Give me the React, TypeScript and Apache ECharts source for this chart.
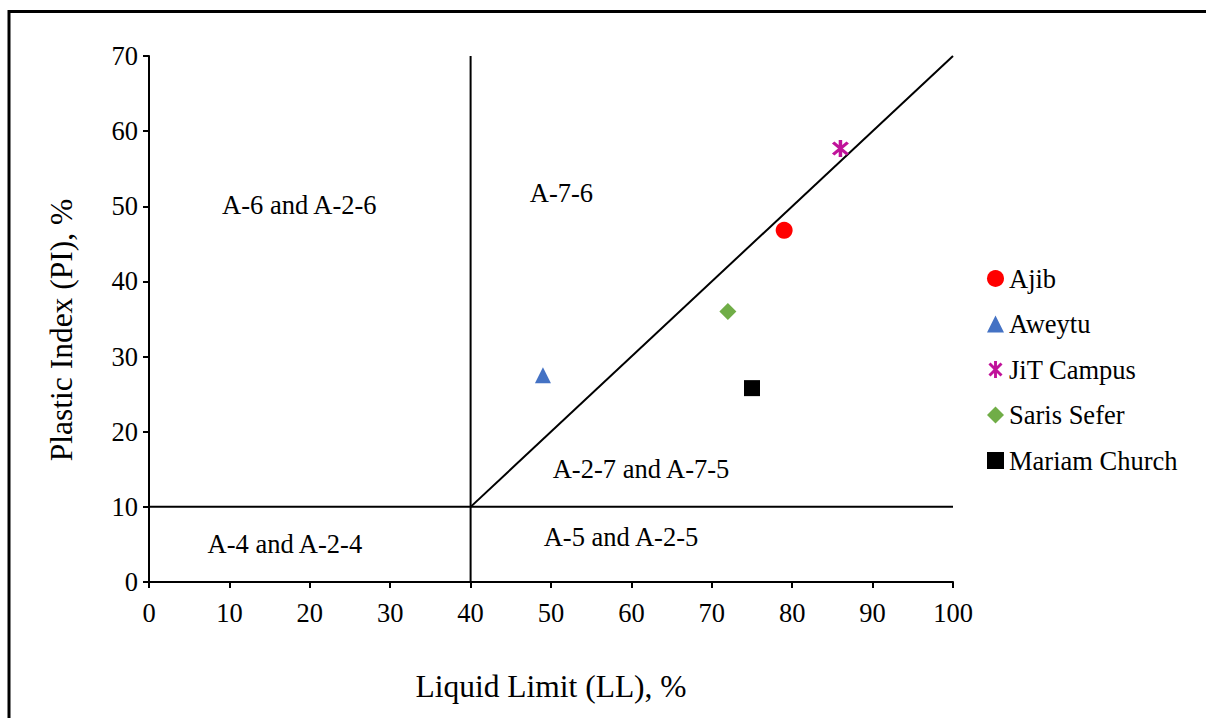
import React, { useEffect, useRef } from "react";
import * as echarts from "echarts";

const seriesNames = ["Ajib", "Aweytu", "JiT Campus", "Saris Sefer", "Mariam Church"];
const llValues = [79, 49, 86, 72, 75];
const piValues = [46.8, 27.5, 57.7, 36, 25.8];
const colors = ["#FF0000", "#4472C4", "#C0139A", "#70AD47", "#000000"];

const xTicks = [0, 10, 20, 30, 40, 50, 60, 70, 80, 90, 100];
const yTicks = [0, 10, 20, 30, 40, 50, 60, 70];

const boundaryLines = [
  [[40, 0], [40, 70]],
  [[0, 10], [100, 10]],
  [[40, 10], [100, 70]],
];

const zoneLabels = ["A-6 and A-2-6", "A-7-6", "A-2-7 and A-7-5", "A-5 and A-2-5", "A-4 and A-2-4"];
const zoneX = [18.7, 51.3, 61.2, 58.7, 16.9];
const zoneY = [50.2, 51.8, 15.0, 6.0, 5.0];

const xTitle = "Liquid Limit (LL), %";
const yTitle = "Plastic Index (PI), %";

const FONT = '"Liberation Serif", "Times New Roman", serif';

const asterisk = (() => {
  const w = 1.7;
  const L = 10;
  const bar = (ang: number) => {
    const c = Math.cos(ang), s = Math.sin(ang);
    const pts = [[-w, -L], [w, -L], [w, L], [-w, L]].map(([x, y]) => [x * c - y * s, x * s + y * c]);
    return "M" + pts.map((p) => p[0].toFixed(3) + "," + p[1].toFixed(3)).join("L") + "Z";
  };
  return "path://" + bar(0) + bar(Math.PI / 4) + bar(-Math.PI / 4);
})();

const symbols = ["circle", "triangle", asterisk, "diamond", "rect"];
const sizes = [17, 16, 17, 17, 16];

export default function App() {
  const ref = useRef<HTMLDivElement>(null);
  useEffect(() => {
    document.body.style.margin = "0";
    const chart = echarts.init(ref.current!, null, { renderer: "svg" });
    const series: any[] = [];
    boundaryLines.forEach((seg) => {
      series.push({
        type: "line",
        data: seg,
        symbol: "none",
        lineStyle: { color: "#000", width: 2 },
        silent: true,
        z: 1,
      });
    });
    seriesNames.forEach((n, i) => {
      series.push({
        type: "scatter",
        name: n,
        data: [[llValues[i], piValues[i]]],
        symbol: symbols[i],
        symbolSize: sizes[i],
        itemStyle: { color: colors[i], opacity: 1 },
        z: 3,
      });
    });
    series.push({
      type: "scatter",
      data: zoneLabels.map((t, i) => ({ value: [zoneX[i], zoneY[i]], name: t })),
      symbolSize: 0,
      itemStyle: { opacity: 1 },
      label: {
        show: true,
        position: "inside",
        formatter: (p: any) => p.name,
        color: "#000",
        fontFamily: FONT,
        fontSize: 26.5,
      },
      silent: true,
      z: 2,
    });
    chart.setOption({
      animation: false,
      backgroundColor: "#fff",
      grid: { left: 149, right: 253, top: 56, bottom: 136 },
      xAxis: {
        type: "value",
        min: 0,
        max: 100,
        interval: 10,
        name: xTitle,
        nameLocation: "middle",
        nameGap: 88,
        nameTextStyle: { fontFamily: FONT, fontSize: 31.5, color: "#000" },
        axisLine: { show: true, lineStyle: { color: "#000", width: 2 } },
        axisTick: { show: true, length: 6, lineStyle: { color: "#000", width: 2 } },
        axisLabel: {
          fontFamily: FONT,
          fontSize: 26.5,
          color: "#000",
          margin: 17,
          formatter: (v: number) => (xTicks.includes(v) ? String(v) : ""),
        },
        splitLine: { show: false },
      },
      yAxis: {
        type: "value",
        min: 0,
        max: 70,
        interval: 10,
        axisLine: { show: true, lineStyle: { color: "#000", width: 2 } },
        axisTick: { show: true, length: 6, lineStyle: { color: "#000", width: 2 } },
        axisLabel: {
          fontFamily: FONT,
          fontSize: 26.5,
          color: "#000",
          margin: 11,
          formatter: (v: number) => (yTicks.includes(v) ? String(v) : ""),
        },
        splitLine: { show: false },
      },
      legend: {
        orient: "vertical",
        left: 982,
        top: 260,
        itemWidth: 17,
        itemHeight: 17,
        itemGap: 18.5,
        data: seriesNames,
        textStyle: { fontFamily: FONT, fontSize: 26.5, color: "#000" },
      },
      graphic: [
        {
          type: "rect",
          shape: { x: 9, y: 11.5, width: 1400, height: 1000 },
          style: { fill: "none", stroke: "#000", lineWidth: 3 },
          silent: true,
        },
        {
          type: "text",
          x: 61,
          y: 330,
          rotation: Math.PI / 2,
          style: {
            text: yTitle,
            fontFamily: FONT,
            fontSize: 31.5,
            fill: "#000",
            align: "center",
            verticalAlign: "middle",
          },
          silent: true,
        },
      ],
      series,
    });
    return () => chart.dispose();
  }, []);
  return <div ref={ref} style={{ position: "fixed", left: 0, top: 0, width: 1206, height: 718 }} />;
}
